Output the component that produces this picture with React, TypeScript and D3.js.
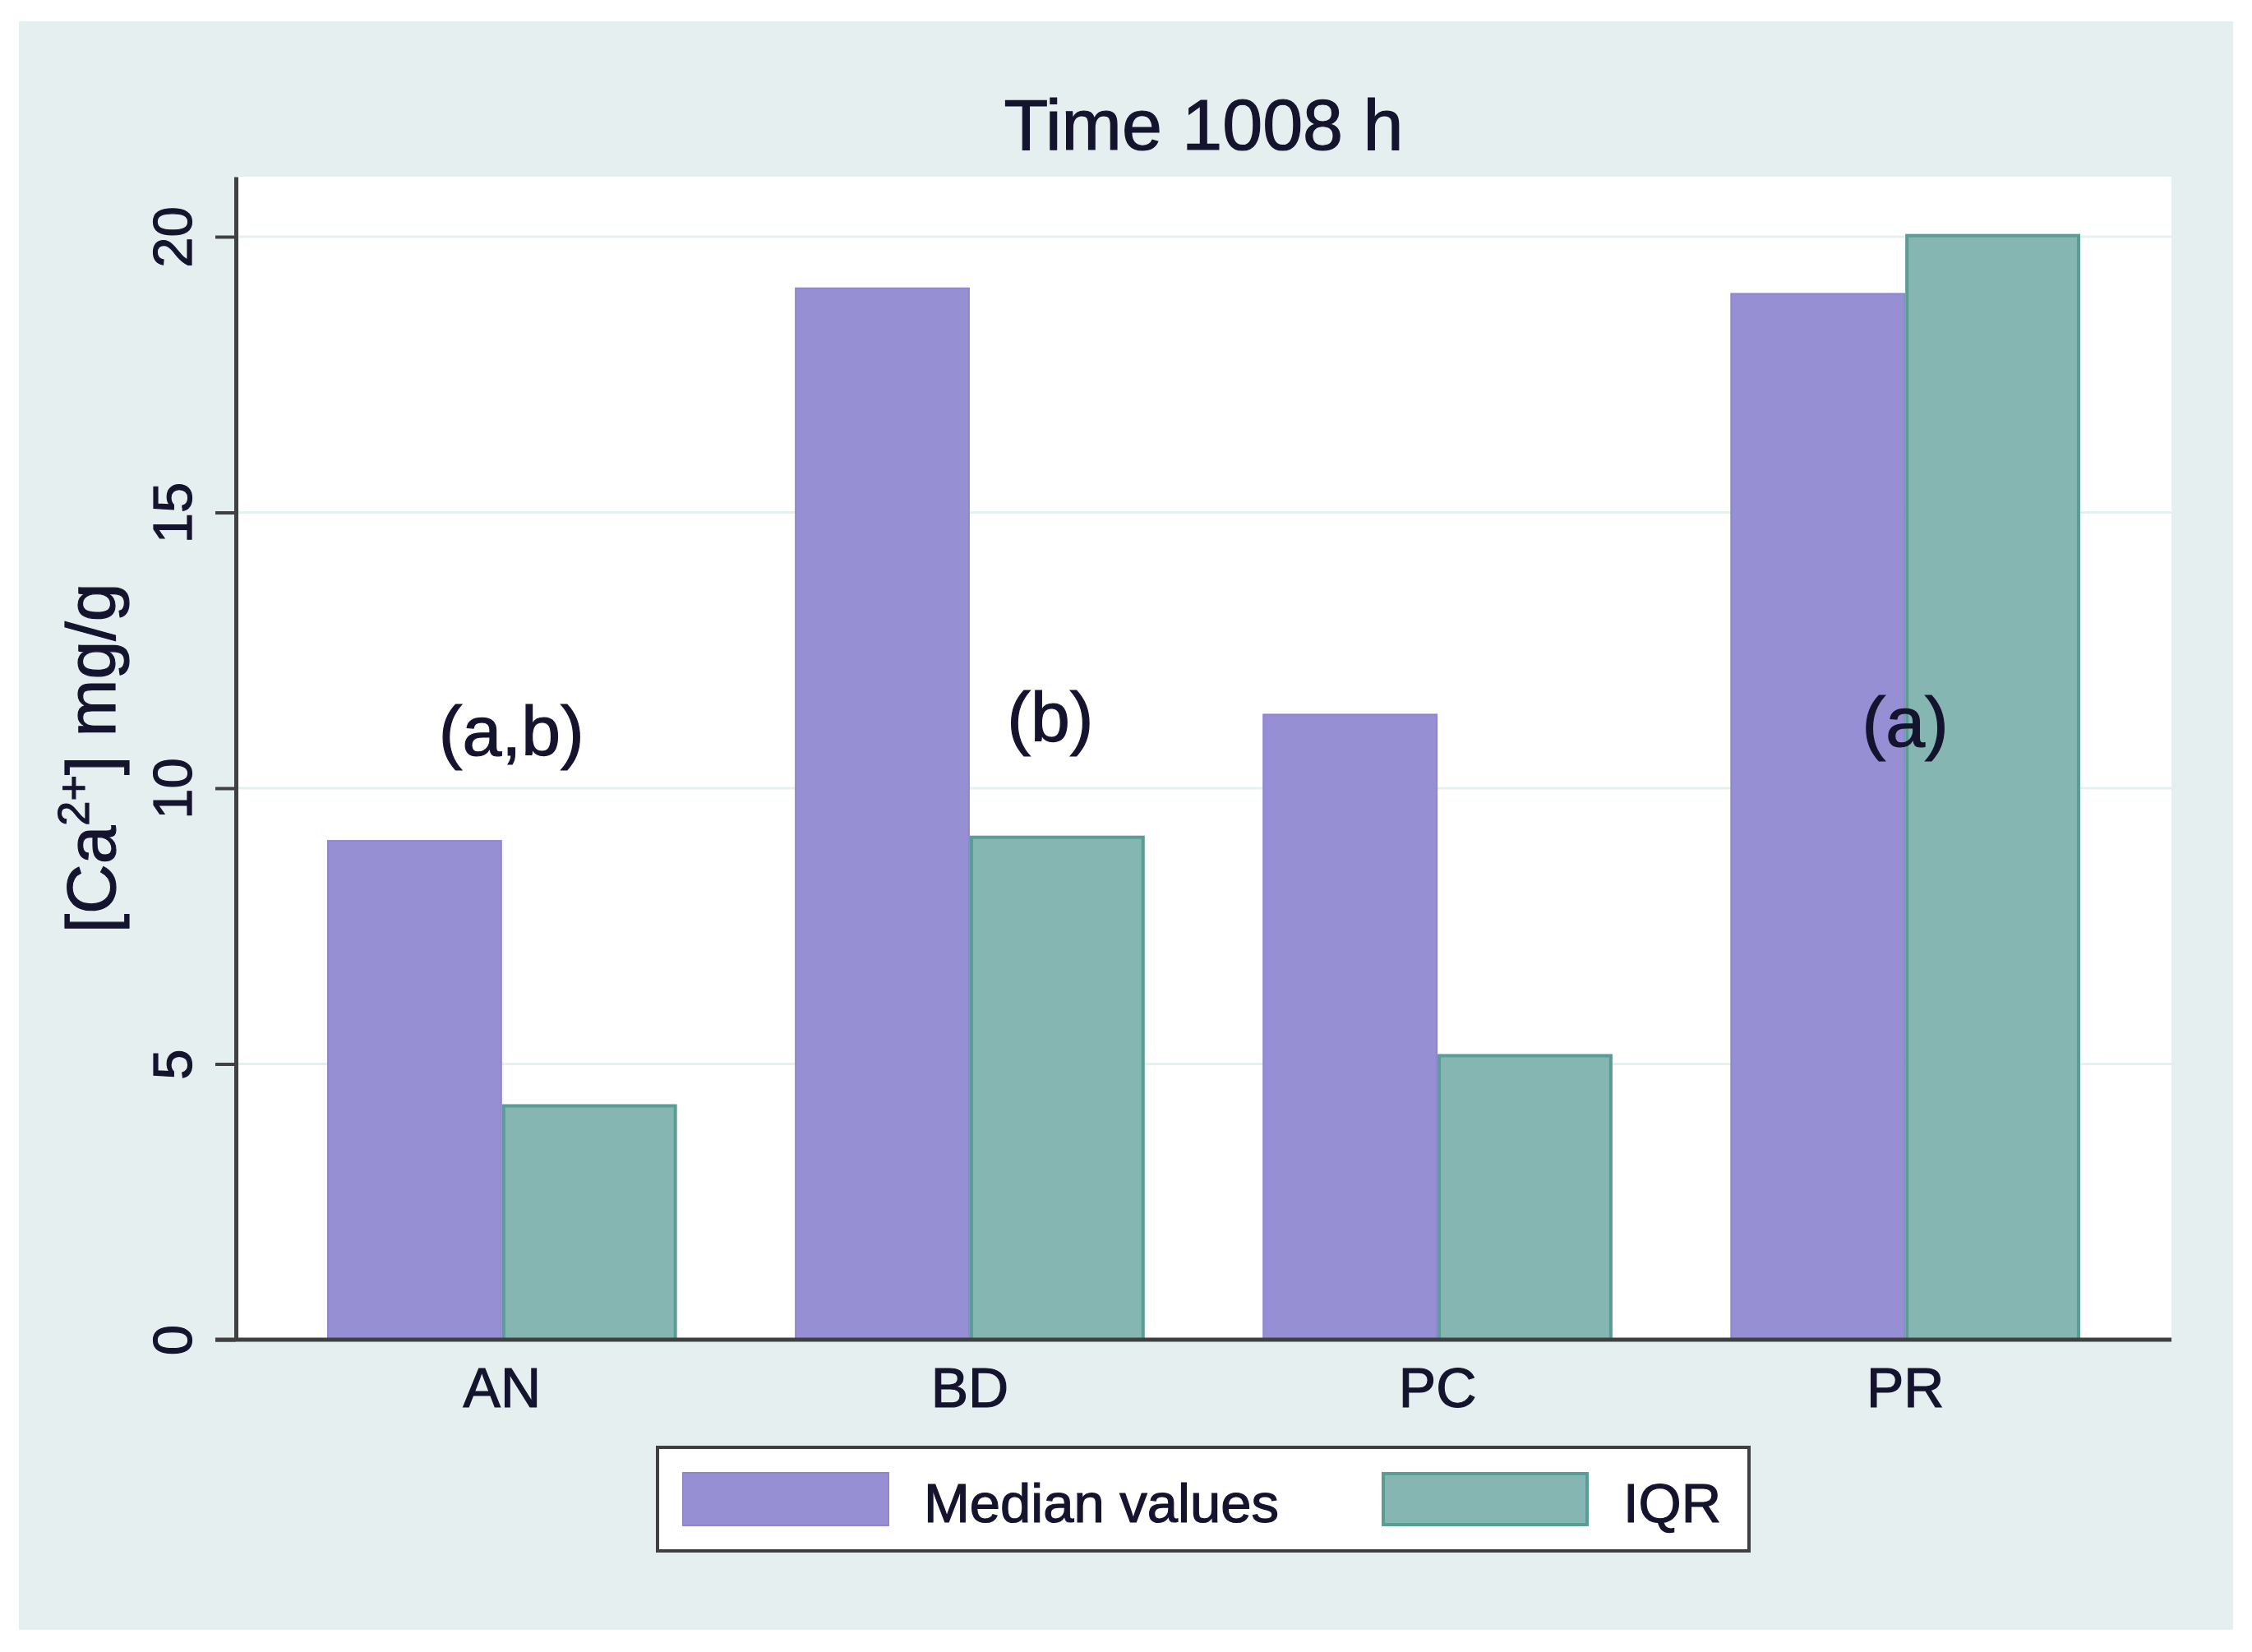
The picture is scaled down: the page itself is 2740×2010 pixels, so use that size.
import React, { useEffect, useRef } from "react";
import * as d3 from "d3";

const categories = ["AN", "BD", "PC", "PR"];
const seriesNames = ["Median values", "IQR"];
const medianValues = [9.06, 19.08, 11.35, 18.98];
const iqrValues = [4.27, 9.14, 5.18, 20.05];
const yTicks = [0, 5, 10, 15, 20];
const annotationLabels = ["(a,b)", "(b)", "(a)"];
const annotationCategories = ["AN", "BD", "PR"];
const annotationValues = [10.6, 10.85, 10.76];
const annotationShifts = [0.02, 0.172, 0];
const titleText = "Time 1008 h";

const W = 2740;
const H = 2010;
const plotL = 287;
const plotR = 2642;
const plotT = 215;
const plotB = 1630;
const FONT = "'Liberation Sans', Arial, Helvetica, sans-serif";
const TEXT = "#14142e";
const BG = "#e5eff0";
const colors = ["#968fd4", "#85b6b1"];
const strokes = ["#8e86cf", "#5a9d95"];
const TS = 1.2;

export default function App() {
  const yAxisRef = useRef<SVGGElement>(null);

  const x = d3.scalePoint<string>().domain(categories).range([plotL, plotR]).padding(0.569);
  const step = x.step();
  const barW = step * 0.374;
  const x1 = d3.scaleBand<string>().domain(seriesNames).range([-barW, barW]).padding(0);
  const yTop = 20 * (plotB - plotT) / (plotB - 288);
  const y = d3.scaleLinear().domain([0, yTop]).range([plotB, plotT]);

  const series = [medianValues, iqrValues];

  useEffect(() => {
    if (!yAxisRef.current) return;
    const g = d3.select(yAxisRef.current);
    g.selectAll("*").remove();
    g.call(
      d3.axisLeft(y).tickValues(yTicks).tickSize(25).tickSizeOuter(0).tickFormat((d) => String(d))
    );
    g.select(".domain").attr("stroke", "#404040").attr("stroke-width", 5);
    g.selectAll(".tick line").attr("stroke", "#404040").attr("stroke-width", 4);
    g.selectAll(".tick text")
      .attr("font-family", FONT)
      .attr("font-size", 67)
      .attr("fill", TEXT)
      .attr("stroke", TEXT)
      .attr("stroke-width", TS)
      .attr("transform", "rotate(-90)")
      .attr("text-anchor", "middle")
      .attr("x", 0)
      .attr("y", -54)
      .attr("dy", 0);
  }, []);

  return (
    <svg
      width={W}
      height={H}
      style={{ position: "absolute", left: 0, top: 0, display: "block" }}
    >
      <rect x={0} y={0} width={W} height={H} fill="#ffffff" />
      <rect x={23} y={26} width={2694} height={1957} fill={BG} />
      <rect x={plotL} y={plotT} width={plotR - plotL} height={plotB - plotT} fill="#ffffff" />
      {yTicks.filter((t) => t > 0).map((t) => (
        <line key={t} x1={plotL} x2={plotR} y1={y(t)} y2={y(t)} stroke="#e6eff1" strokeWidth={3} />
      ))}
      <text
        x={(plotL + plotR) / 2}
        y={182}
        textAnchor="middle"
        fontFamily={FONT}
        fontSize={88}
        fill={TEXT}
        stroke={TEXT}
        strokeWidth={TS}
      >
        {titleText}
      </text>
      {categories.map((c, i) => (
        <g key={c} transform={`translate(${x(c)},0)`}>
          {seriesNames.map((s, k) => {
            const v = series[k][i];
            const sw = k === 1 ? 4 : 2;
            return (
              <rect
                key={s}
                x={(x1(s) as number) + sw / 2}
                y={y(v) + sw / 2}
                width={x1.bandwidth() - sw}
                height={plotB - y(v) - sw / 2}
                fill={colors[k]}
                stroke={strokes[k]}
                strokeWidth={sw}
              />
            );
          })}
        </g>
      ))}
      {annotationLabels.map((lab, i) => (
        <text
          key={lab}
          x={(x(annotationCategories[i]) as number) + annotationShifts[i] * step}
          y={y(annotationValues[i])}
          textAnchor="middle"
          fontFamily={FONT}
          fontSize={86}
          fill={TEXT}
          stroke={TEXT}
          strokeWidth={TS}
        >
          {lab}
        </text>
      ))}
      <g ref={yAxisRef} transform={`translate(${plotL},0)`} />
      <line x1={plotL - 25} x2={plotR} y1={plotB} y2={plotB} stroke="#404040" strokeWidth={5} />
      {categories.map((c) => (
        <text
          key={c}
          x={x(c)}
          y={1712}
          textAnchor="middle"
          fontFamily={FONT}
          fontSize={68}
          fill={TEXT}
          stroke={TEXT}
          strokeWidth={TS}
        >
          {c}
        </text>
      ))}
      <text
        transform={`translate(140,${(plotT + plotB) / 2}) rotate(-90)`}
        textAnchor="middle"
        fontFamily={FONT}
        fontSize={84}
        fill={TEXT}
        stroke={TEXT}
        strokeWidth={TS}
      >
        [Ca
        <tspan fontSize={54} dy={-32}>2+</tspan>
        <tspan dy={32}>] mg/g</tspan>
      </text>
      <g>
        <rect x={800} y={1761} width={1328} height={126} fill="#ffffff" stroke="#404040" strokeWidth={4} />
        {seriesNames.map((s, k) => {
          const kx = k === 0 ? 830 : 1681;
          const tx = k === 0 ? 1124 : 1975;
          const sw = k === 1 ? 4 : 2;
          return (
            <g key={s}>
              <rect x={kx + sw / 2} y={1791 + sw / 2} width={252 - sw} height={66 - sw} fill={colors[k]} stroke={strokes[k]} strokeWidth={sw} />
              <text x={tx} y={1852} fontFamily={FONT} fontSize={67} fill={TEXT} stroke={TEXT} strokeWidth={TS}>
                {s}
              </text>
            </g>
          );
        })}
      </g>
    </svg>
  );
}
